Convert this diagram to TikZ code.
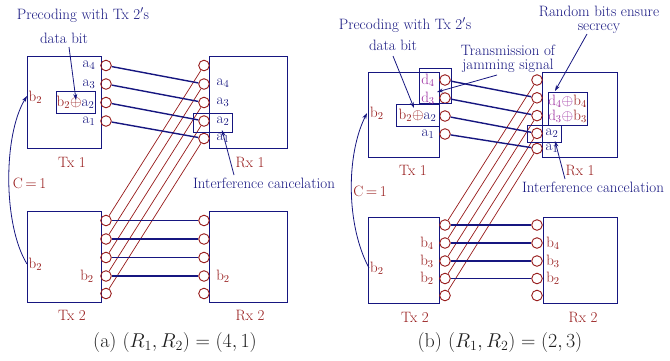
\RequirePackage{fix-cm}
\documentclass[tikz,border=0pt]{standalone}
\usepackage{fontspec}
\usetikzlibrary{arrows.meta}
\definecolor{myblue}{RGB}{22,22,128}
\definecolor{myred}{RGB}{150,25,25}
\definecolor{mymag}{RGB}{155,45,160}
\definecolor{capgray}{RGB}{30,30,30}
\newcommand{\lblf}{\fontsize{15}{15}\selectfont}
\newcommand{\tightf}{\fontsize{15}{13.5}\selectfont}
\newcommand{\capf}{\fontsize{20}{20}\selectfont}
\begin{document}
\begin{tikzpicture}[x=1pt,y=-1pt,
  unit/.style={draw=myblue, line width=1pt, inner sep=0pt, anchor=north west},
  port/.style={circle, draw=myred, line width=0.9pt, minimum size=10.6pt, inner sep=0pt},
  bline/.style={draw=myblue, line width=1.4pt},
  rline/.style={draw=myred, line width=0.7pt},
  txt/.style={inner sep=0pt, font=\lblf},
  btxt/.style={txt, text=myblue},
  rtxt/.style={txt, text=myred},
  mtxt/.style={txt, text=mymag},
  twoline/.style={inner sep=0pt, font=\tightf, text=myblue, align=center, anchor=north},
  frame/.style={draw=myblue, line width=1pt, inner sep=0pt, font=\lblf},
  arr/.style={draw=myblue, line width=0.8pt, -{Stealth[length=6pt,width=4pt]}},
  captxt/.style={inner sep=0pt, font=\capf, text=capgray}]
\useasboundingbox (0,0) rectangle (670,360);

% ================= Panel (a) =================
\node[unit, minimum width=74pt, minimum height=92pt] (txa) at (27,56) {};
\node[unit, minimum width=78pt, minimum height=92pt] (rxa) at (209,56) {};
\node[unit, minimum width=74pt, minimum height=91pt] (txb) at (27,211) {};
\node[unit, minimum width=78pt, minimum height=91pt] (rxb) at (209,211) {};

\foreach \i/\y in {1/65.5,2/84,3/102.5,4/121} \node[port] (ta\i) at (106,\y) {};
\foreach \i/\y in {1/65.5,2/84,3/102.5,4/121,5/138.5} \node[port] (ra\i) at (204,\y) {};
\foreach \i/\y in {1/220.5,2/239,3/257.5,4/276,5/293.5} {
  \node[port] (sa\i) at (106,\y) {};
  \node[port] (qa\i) at (204,\y) {};
}
\foreach \i in {1,...,5} \draw[rline] (sa\i) -- (ra\i);
\foreach \i/\j in {1/2,2/3,3/4,4/5} \draw[bline] (ta\i) -- (ra\j);
\foreach \i in {1,...,4} \draw[bline] (sa\i) -- (qa\i);

% labels Tx1 (a)
\node[btxt] (la4) at (89,65.5) {a$_4$};
\node[btxt] (la3) at (89,84) {a$_3$};
\node[frame, minimum width=39pt, minimum height=22pt] (pxa) at (75.5,102) {\textcolor{myred}{b$_2\oplus$}\textcolor{myblue}{a$_2$}};
\node[btxt] (la1) at (89,121) {a$_1$};
\node[rtxt, anchor=west] (lb2a) at (28.5,97) {b$_2$};
% labels Rx1 (a)
\node[btxt] (ma4) at (223,83.5) {a$_4$};
\node[btxt] (ma3) at (223,102.5) {a$_3$};
\node[btxt] (ma2) at (223,121.5) {a$_2$};
\node[btxt] (ma1) at (223,138.5) {a$_1$};
\node[frame, minimum width=39pt, minimum height=19pt] (a2fa) at (212.5,122.5) {};
% labels Tx2 / Rx2 (a)
\node[rtxt, anchor=west] (lc2a) at (28.5,264) {b$_2$};
\node[rtxt] (ld2a) at (87,276.5) {b$_2$};
\node[rtxt] (le2a) at (223,276.5) {b$_2$};
% titles (a)
\node[rtxt] (t1a) at (72,162) {Tx 1};
\node[rtxt] (r1a) at (250,162) {Rx 1};
\node[rtxt] (t2a) at (72,315) {Tx 2};
\node[rtxt] (r2a) at (250,315) {Rx 2};
\node[captxt] (capa) at (175,343) {(a) $(R_1,R_2)=(4,1)$};
% annotations (a)
\node[btxt] (pra1) at (83,15) {Precoding with Tx 2$'$s};
\node[btxt] (pra2) at (64,38) {data bit};
\coordinate (pa0) at (69,47);
\coordinate (pa1) at (76,100);
\draw[arr] (pa0) -- (pa1);
\node[btxt] (ica) at (264,183) {Interference cancelation};
\coordinate (ia0) at (234,175);
\coordinate (ia1) at (222,130);
\draw[arr] (ia0) -- (ia1);
\coordinate (ca0) at (27,264);
\coordinate (ca1) at (27,96);
\draw[arr] (ca0) .. controls (3,225) and (3,135) .. (ca1);
\node[rtxt] (cla) at (29.5,183) {C$\,=\,$1};

% ================= Panel (b) =================
\node[unit, minimum width=71pt, minimum height=85pt] (txc) at (368,72) {};
\node[unit, minimum width=75pt, minimum height=85pt] (rxc) at (542,72) {};
\node[unit, minimum width=71pt, minimum height=86pt] (txd) at (368,217) {};
\node[unit, minimum width=74pt, minimum height=86pt] (rxd) at (543,217) {};

\foreach \i/\y in {1/80,2/98,3/116,4/134} \node[port] (tb\i) at (445,\y) {};
\foreach \i/\y in {1/80,2/97.8,3/115.6,4/133.4,5/148.5} \node[port] (rb\i) at (537,\y) {};
\foreach \i/\y in {1/225,2/243,3/261,4/278.5,5/295.5} {
  \node[port] (sb\i) at (445,\y) {};
  \node[port] (qb\i) at (537,\y) {};
}
\foreach \i in {1,...,5} \draw[rline] (sb\i) -- (rb\i);
\foreach \i/\j in {1/2,2/3,3/4,4/5} \draw[bline] (tb\i) -- (rb\j);
\foreach \i in {1,...,4} \draw[bline] (sb\i) -- (qb\i);

% labels Tx1 (b)
\node[frame, minimum width=32pt, minimum height=35pt] (dfr) at (435,85.5) {};
\node[mtxt] (ld4) at (428,80) {d$_4$};
\node[mtxt] (ld3) at (428,98) {d$_3$};
\node[frame, minimum width=43pt, minimum height=22pt] (pxb) at (417.5,115) {\textcolor{myred}{b$_2\oplus$}\textcolor{myblue}{a$_2$}};
\node[btxt] (lb1) at (428,134) {a$_1$};
\node[rtxt, anchor=west] (lb2b) at (370,113) {b$_2$};
% labels Rx1 (b)
\node[frame, align=center, minimum width=39pt, minimum height=33pt] (dbx) at (567.5,108.5) {\textcolor{mymag}{d$_4\oplus$}\textcolor{myred}{b$_4$}\\\textcolor{mymag}{d$_3\oplus$}\textcolor{myred}{b$_3$}};
\node[btxt] (mb2) at (552,133) {a$_2$};
\node[btxt] (mb1) at (552,148.5) {a$_1$};
\node[frame, minimum width=34pt, minimum height=17pt] (a2fb) at (544,133.5) {};
% labels Tx2 / Rx2 (b)
\node[rtxt, anchor=west] (lc2b) at (370,268) {b$_2$};
\node[rtxt] (nb4) at (427,243) {b$_4$};
\node[rtxt] (nb3) at (427,261) {b$_3$};
\node[rtxt] (nb2) at (427,278.5) {b$_2$};
\node[rtxt] (ob4) at (553,243) {b$_4$};
\node[rtxt] (ob3) at (553,261) {b$_3$};
\node[rtxt] (ob2) at (553,278.5) {b$_2$};
% titles (b)
\node[rtxt] (t1b) at (413,170) {Tx 1};
\node[rtxt] (r1b) at (580,170) {Rx 1};
\node[rtxt] (t2b) at (415,317) {Tx 2};
\node[rtxt] (r2b) at (583,317) {Rx 2};
\node[captxt] (capb) at (500,343) {(b) $(R_1,R_2)=(2,3)$};
% annotations (b)
\node[btxt] (prb1) at (405,25) {Precoding with Tx 2$'$s};
\node[btxt] (prb2) at (393,45) {data bit};
\coordinate (pb0) at (393,56);
\coordinate (pb1) at (414,108);
\draw[arr] (pb0) -- (pb1);
\node[twoline] (jm) at (508,45) {Transmission of\\jamming signal};
\coordinate (jb0) at (497,75);
\coordinate (jb1) at (437,92);
\draw[arr] (jb0) -- (jb1);
\node[twoline] (rs) at (599,6) {Random bits ensure\\secrecy};
\coordinate (sb0) at (587,34);
\coordinate (sbt) at (555,91);
\draw[arr] (sb0) -- (sbt);
\node[btxt] (icb) at (593,187) {Interference cancelation};
\coordinate (ib0) at (565,179);
\coordinate (ib1) at (555,141);
\draw[arr] (ib0) -- (ib1);
\coordinate (cb0) at (369,268);
\coordinate (cb1) at (367,113);
\draw[arr] (cb0) .. controls (346,225) and (346,155) .. (cb1);
\node[rtxt] (clb) at (370,191) {C$\,=\,$1};
\end{tikzpicture}
\end{document}
